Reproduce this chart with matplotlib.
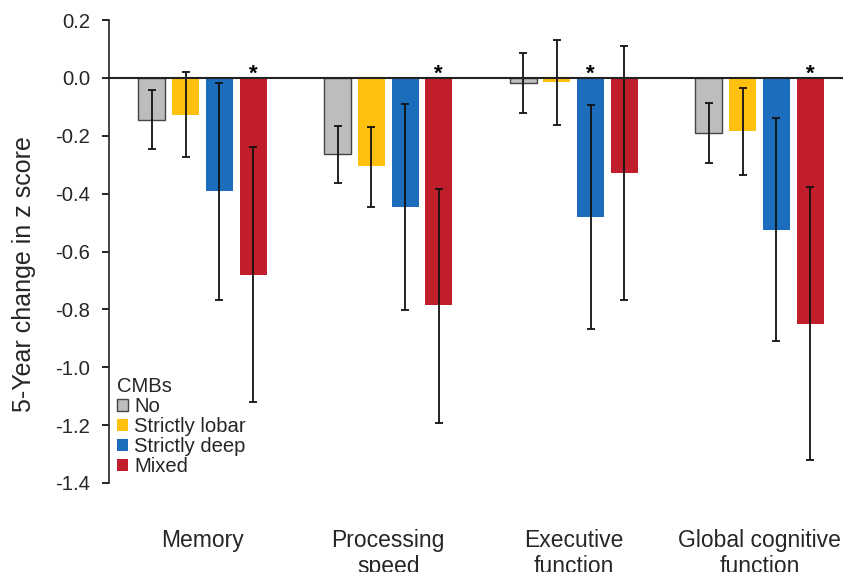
import matplotlib
matplotlib.use('Agg')
import matplotlib.pyplot as plt
import numpy as np

plt.rcParams['font.family'] = ['Liberation Sans', 'DejaVu Sans']

# domains
categories = ['Memory', 'Processing\nspeed', 'Executive\nfunction', 'Global cognitive\nfunction']
groups = ['No', 'Strictly lobar', 'Strictly deep', 'Mixed']

# mean 5-year change (z score), one list per CMB group
means = {
    'No':             [-0.144, -0.263, -0.019, -0.190],
    'Strictly lobar': [-0.127, -0.306, -0.015, -0.184],
    'Strictly deep':  [-0.392, -0.445, -0.481, -0.526],
    'Mixed':          [-0.680, -0.786, -0.327, -0.849],
}
# error bar ends (upper, lower)
err_hi = {
    'No':             [-0.043, -0.165, 0.085, -0.086],
    'Strictly lobar': [0.021, -0.168, 0.130, -0.036],
    'Strictly deep':  [-0.016, -0.089, -0.094, -0.140],
    'Mixed':          [-0.240, -0.384, 0.109, -0.377],
}
err_lo = {
    'No':             [-0.247, -0.362, -0.122, -0.294],
    'Strictly lobar': [-0.274, -0.447, -0.164, -0.336],
    'Strictly deep':  [-0.766, -0.803, -0.868, -0.911],
    'Mixed':          [-1.120, -1.192, -0.766, -1.320],
}
# which bar gets a star: (domain index, group)
stars = [(0, 'Mixed'), (1, 'Mixed'), (2, 'Strictly deep'), (3, 'Mixed')]

colors = {'No': '#BDBDBD', 'Strictly lobar': '#FFC10E',
          'Strictly deep': '#1C6EBC', 'Mixed': '#BF1E2A'}
txt = '#262626'

fig = plt.figure(figsize=(8.43, 5.72), dpi=100)
ax = fig.add_axes([0.1293, 0.1556, 0.8707, 0.8094])

x = np.arange(len(categories))
step = 0.1817
width = 0.1456
for i, g in enumerate(groups):
    pos = x + (i - 1.5) * step
    m = np.array(means[g])
    yerr = [m - np.array(err_lo[g]), np.array(err_hi[g]) - m]
    if g == 'No':
        ax.bar(pos, m, width, color=colors[g], edgecolor='#444444', linewidth=1.0, label=g)
    else:
        ax.bar(pos, m, width, color=colors[g], linewidth=0, label=g)
    ax.errorbar(pos, m, yerr=yerr, fmt='none', ecolor='#111111',
                elinewidth=1.3, capsize=3, capthick=1.3)

for ci, g in stars:
    xs = x[ci] + (groups.index(g) - 1.5) * step
    ax.text(xs, -0.005, '*', ha='center', va='baseline', fontsize=16, fontweight='bold')

ax.axhline(0, color='#222222', linewidth=1.5, zorder=3)

yt = np.round(np.arange(-1.4, 0.21, 0.2), 1)
ax.set_xlim(-0.504, 3.45)
ax.set_ylim(-1.4, 0.2)
ax.set_yticks(yt)
ax.set_yticklabels(['%.1f' % (v + 0.0) for v in yt], fontsize=14.6, color=txt)
ax.set_xticks(x)
ax.set_xticklabels(categories, fontsize=16.5, color=txt, linespacing=1.15)
ax.tick_params(axis='x', length=0, pad=33)
ax.tick_params(axis='y', length=5, width=1.2, direction='out', pad=8.5)

for s in ['top', 'right', 'bottom']:
    ax.spines[s].set_visible(False)
ax.spines['left'].set_linewidth(1.2)
ax.spines['left'].set_color('#222222')

ax.set_ylabel('5-Year change in z score', fontsize=18, color=txt)
ax.yaxis.set_label_coords(-0.1, 0.451)

leg = ax.legend(title='CMBs', loc='upper left', bbox_to_anchor=(0.011, 0.228),
                frameon=False, fontsize=14.6, title_fontsize=14.6,
                handlelength=0.55, handleheight=0.55, handletextpad=0.3,
                labelspacing=0.05, borderaxespad=0, alignment='left', borderpad=0)
for t in leg.get_texts():
    t.set_color(txt)
leg.get_title().set_color(txt)

plt.savefig('out.png', dpi=100)
